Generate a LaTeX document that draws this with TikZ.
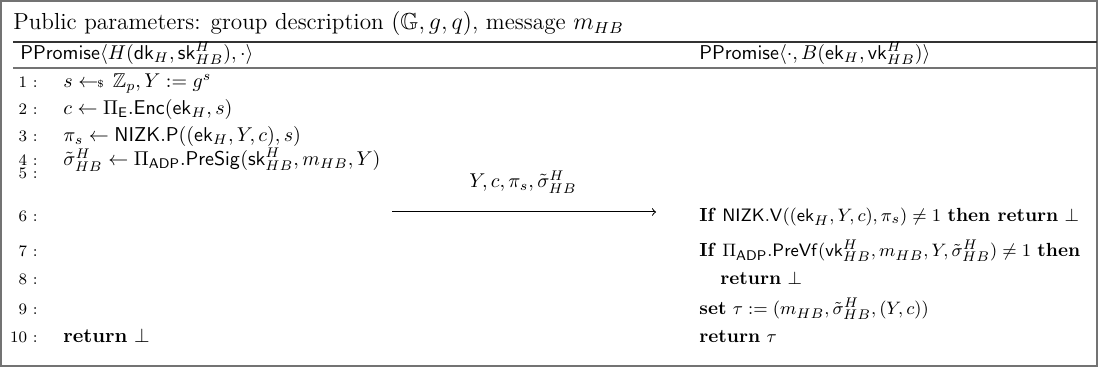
\documentclass[tikz,border=0pt]{standalone}
\usepackage{amsmath,amssymb}
\newcommand{\smp}{\mathrel{\gets\!\!\mbox{\tiny\$}}\,}
\newcommand{\kw}[1]{\textbf{#1}}
\begin{document}
\begin{tikzpicture}[x=0.5pt,y=-0.5pt,
  frame/.style={draw=black!55, line width=1.2pt},
  rule/.style={draw=black!80, line width=1.1pt},
  num/.style={anchor=base east, inner sep=0pt, font=\fontsize{8}{9}\selectfont},
  code/.style={anchor=base west, inner sep=0pt, font=\fontsize{10}{12}\selectfont},
  rcode/.style={anchor=base west, inner sep=0pt, font=\fontsize{9.5}{11}\selectfont},
  hdr/.style={anchor=base west, inner sep=0pt, font=\fontsize{9.6}{11}\selectfont},
  msg/.style={->, line width=0.5pt}]
\useasboundingbox (0,0) rectangle (1098,368);
\draw[frame] (1,1) rectangle (1097,366);
\node[anchor=base west, inner sep=0pt, font=\fontsize{11.6}{13}\selectfont] (title) at (13,30)
  {Public parameters: group description $(\mathbb{G}, g, q)$, message $m_{HB}$};
\draw[rule] (13,42) -- (1097,42);
\node[hdr] (hl) at (20,60) {$\mathsf{PPromise}\langle H(\mathsf{dk}_H, \mathsf{sk}^H_{HB}), \cdot\rangle$};
\node[hdr] (hr) at (699,60) {$\mathsf{PPromise}\langle \cdot, B(\mathsf{ek}_H, \mathsf{vk}^H_{HB})\rangle$};
\draw[rule, draw=black!55] (13,68) -- (1097,68);
% line numbers
\node[num] (n1) at (38,88) {1 :};
\node[num] (n2) at (38,115) {2 :};
\node[num] (n3) at (38,142) {3 :};
\node[num] (n4) at (38,166) {4 :};
\node[num] (n5) at (38,179) {5 :};
\node[num] (n6) at (38,222) {6 :};
\node[num] (n7) at (38,257) {7 :};
\node[num] (n8) at (38,285) {8 :};
\node[num] (n9) at (38,315) {9 :};
\node[num] (n10) at (38,343) {10 :};
% left code
\node[code] (l1) at (63,88) {$s \smp \mathbb{Z}_p, Y := g^s$};
\node[code] (l2) at (63,115) {$c \gets \Pi_{\mathsf{E}}.\mathsf{Enc}(\mathsf{ek}_H, s)$};
\node[code] (l3) at (63,142) {$\pi_s \gets \mathsf{NIZK.P}((\mathsf{ek}_H, Y, c), s)$};
\node[code] (l4) at (63,166) {$\tilde{\sigma}^H_{HB} \gets \Pi_{\mathsf{ADP}}.\mathsf{PreSig}(\mathsf{sk}^H_{HB}, m_{HB}, Y)$};
\node[code] (l10) at (63,343) {\kw{return} $\bot$};
% message
\coordinate (ma) at (392,212);
\coordinate (mb) at (656,212);
\node[anchor=base, inner sep=0pt, font=\fontsize{10}{12}\selectfont] (ml) at (523,188) {$Y, c, \pi_s, \tilde{\sigma}^H_{HB}$};
\draw[msg] (ma) -- (mb);
% right code
\node[rcode] (r6) at (699,222) {\kw{If} $\mathsf{NIZK.V}((\mathsf{ek}_H, Y, c), \pi_s) \neq 1$ \kw{then return} $\bot$};
\node[rcode] (r7) at (699,257) {\kw{If} $\Pi_{\mathsf{ADP}}.\mathsf{PreVf}(\mathsf{vk}^H_{HB}, m_{HB}, Y, \tilde{\sigma}^H_{HB}) \neq 1$ \kw{then}};
\node[rcode] (r8) at (720,285) {\kw{return} $\bot$};
\node[rcode] (r9) at (699,315) {\kw{set} $\tau := (m_{HB}, \tilde{\sigma}^H_{HB}, (Y, c))$};
\node[rcode] (r10) at (699,343) {\kw{return} $\tau$};
\end{tikzpicture}
\end{document}
